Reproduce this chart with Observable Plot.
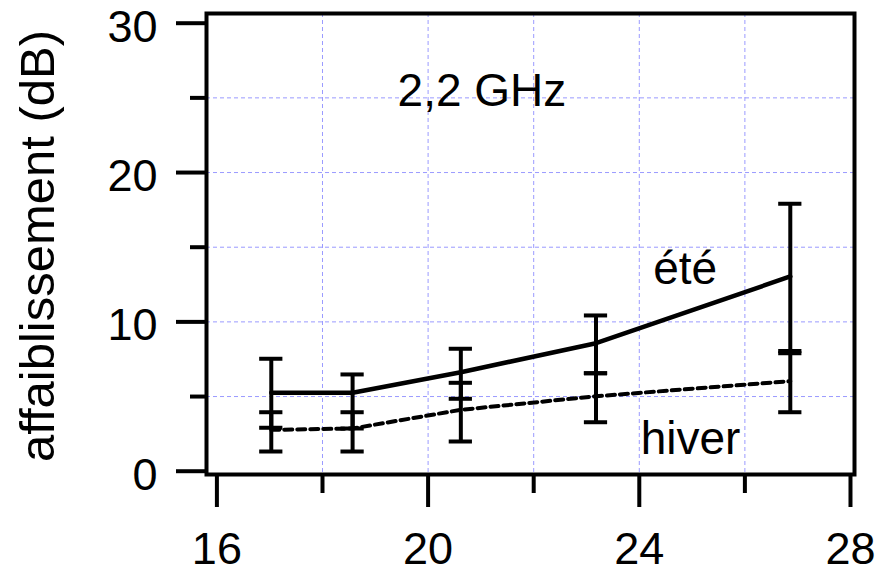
<!DOCTYPE html>
<html>
<head>
<meta charset="utf-8">
<script src="https://cdn.jsdelivr.net/npm/d3@7"></script>
<script src="https://cdn.jsdelivr.net/npm/@observablehq/plot@0.6"></script>
<style>
  html, body { margin: 0; padding: 0; background: #fff; overflow: hidden; }
  #chart { width: 883px; height: 574px; }
</style>
</head>
<body>
<div id="chart"></div>
<script>
// Data
const freq = [17.03, 18.57, 20.62, 23.18, 26.86];          // x values
const ete = [5.25, 5.25, 6.63, 8.57, 13.04];               // été mean
const eteLo = [2.91, 2.86, 4.85, 6.56, 7.9];
const eteHi = [7.53, 6.48, 8.2, 10.43, 17.91];
const hiver = [2.77, 2.86, 4.11, 5.02, 6.03];              // hiver mean
const hiverLo = [1.32, 1.32, 1.99, 3.28, 3.95];
const hiverHi = [3.95, 3.95, 5.92, 6.56, 8.05];

const xMajor = [16, 20, 24, 28];
const xMinor = [18, 22, 26];
const yMajor = [0, 10, 20, 30];
const yMinor = [5, 15, 25];
const xGrid = [18, 20, 22, 24, 26];
const yGrid = [5, 10, 15, 20, 25];

const annoText = ["2,2 GHz", "été", "hiver"];
const annoX = [21.02, 24.87, 24.97];
const annoY = [25.47, 13.55, 2.17];

const yLabel = "affaiblissement (dB)";

const capHalf = 0.22; // half cap width in x units

const eteData = freq.map((x, i) => ({x, y: ete[i], lo: eteLo[i], hi: eteHi[i]}));
const hiverData = freq.map((x, i) => ({x, y: hiver[i], lo: hiverLo[i], hi: hiverHi[i]}));
const caps = [];
for (const d of [...eteData, ...hiverData]) { caps.push({x: d.x, v: d.lo}); caps.push({x: d.x, v: d.hi}); }
const annos = annoText.map((t, i) => ({t, x: annoX[i], y: annoY[i]}));

const font = "Liberation Sans, Arial, Helvetica, sans-serif";
const sw = 4;
const fs = 45;

const chart = Plot.plot({
  width: 883,
  height: 574,
  marginLeft: 206,
  marginRight: 29,
  marginTop: 13,
  marginBottom: 100,
  style: {fontFamily: font, fontSize: fs + "px", color: "#000", background: "#fff"},
  x: {domain: [15.803, 28.076]},
  y: {domain: [-0.22, 30.65]},
  marks: [
    Plot.gridX(xGrid, {stroke: "#9a9aff", strokeOpacity: 1, strokeWidth: 1, strokeDasharray: "4,3"}),
    Plot.gridY(yGrid, {stroke: "#9a9aff", strokeOpacity: 1, strokeWidth: 1, strokeDasharray: "4,3"}),
    // y tick labels (text only, nudged down)
    Plot.axisY(yMajor, {tickSize: 0, tickPadding: 49, stroke: "none", fontSize: fs, dy: 4, label: null}),
    // y ticks
    Plot.axisY(yMajor, {tickSize: 30, tickFormat: () => "", strokeWidth: sw, label: null}),
    Plot.axisY(yMinor, {tickSize: 16, tickFormat: () => "", strokeWidth: sw, label: null}),
    Plot.axisX(xMajor, {tickSize: 33, tickPadding: 25, strokeWidth: sw, fontSize: fs, label: null}),
    Plot.axisX(xMinor, {tickSize: 19, tickFormat: () => "", strokeWidth: sw, label: null}),
    Plot.ruleX(eteData, {x: "x", y1: "lo", y2: "hi", strokeWidth: 4}),
    Plot.ruleX(hiverData, {x: "x", y1: "lo", y2: "hi", strokeWidth: 4}),
    Plot.ruleY(caps, {y: "v", x1: d => d.x - capHalf, x2: d => d.x + capHalf, strokeWidth: 4}),
    Plot.line(eteData, {x: "x", y: "y", strokeWidth: 4.5, stroke: "#000"}),
    Plot.line(hiverData, {x: "x", y: "y", strokeWidth: 4, stroke: "#000", strokeDasharray: "8,5"}),
    Plot.text(annos, {x: "x", y: "y", text: "t", fontSize: 46, textAnchor: "middle", lineAnchor: "middle", fill: "#000"}),
    Plot.text([yLabel], {frameAnchor: "left", dx: -168, dy: 2, rotate: -90, fontSize: 49, textAnchor: "middle", lineAnchor: "middle", fill: "#000"}),
    Plot.frame({strokeWidth: sw, stroke: "#000"})
  ]
});
document.getElementById("chart").appendChild(chart);
</script>
</body>
</html>
